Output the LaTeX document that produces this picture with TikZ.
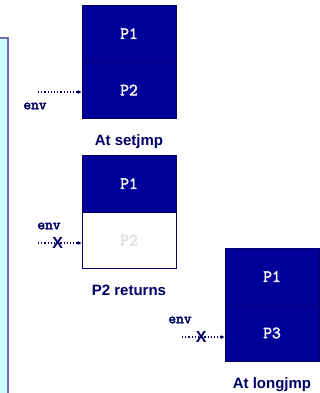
\documentclass[tikz,border=0pt]{standalone}
\usepackage{fontspec}
\setmainfont{Liberation Sans}
\setmonofont[AutoFakeBold=3]{Latin Modern Mono}
\usetikzlibrary{arrows.meta}
\definecolor{navy}{RGB}{0,0,153}
\definecolor{ink}{RGB}{0,0,102}
\definecolor{panel}{RGB}{204,255,255}
\definecolor{rim}{RGB}{110,110,180}
\tikzset{
  cell/.style={draw=ink, fill=navy, text=white!88!gray, minimum width=94pt,
    minimum height=56.5pt, inner sep=0pt, font=\ttfamily\bfseries\fontsize{17}{17}\selectfont},
  gone/.style={cell, fill=white, text=black!12},
  caption/.style={anchor=base, text=ink, font=\bfseries\fontsize{15}{15}\selectfont},
  envlbl/.style={text=ink, font=\ttfamily\bfseries\fontsize{15}{15}\selectfont},
  jmp/.style={ink, dotted, line width=1.2pt, -{Latex[length=4pt,width=4pt]}},
  cross/.style={text=ink, inner sep=0pt, font=\bfseries\fontsize{16}{16}\selectfont}
}
\begin{document}
\begin{tikzpicture}[x=1pt, y=-1pt]
    \useasboundingbox (0,0) rectangle (320,393);
    % left panel
    \fill[panel] (-2,38) rectangle (8,395);
    \draw[rim, line width=1.5pt] (-2,38) -- (8,38) -- (8,395);
    % at setjmp
    \node[cell] (a1) at (129,33.5) {P1};
    \node[cell] (a2) at (129,90) {P2};
    \node[caption] (at) at (129,145) {At setjmp};
    \coordinate (ae) at (38,92);
    \node[envlbl] (aenv) at (35,106) {env};
    \draw[jmp] (ae) -- (a2.west |- ae);
    % p2 returns
    \node[cell] (b1) at (129,183.5) {P1};
    \node[gone] (b2) at (129,240) {P2};
    \node[caption] (bt) at (129,295) {P2 returns};
    \coordinate (be) at (38,243);
    \node[envlbl] (benv) at (49,226) {env};
    \draw[jmp] (be) -- (b2.west |- be) node[cross, pos=.45] (bx) {X};
    % at longjmp
    \node[cell] (c1) at (272,276.5) {P1};
    \node[cell] (c3) at (272,333) {P3};
    \node[caption] (ct) at (272,388) {At longjmp};
    \coordinate (ce) at (182,337);
    \node[envlbl] (cenv) at (180,320) {env};
    \draw[jmp] (ce) -- (c3.west |- ce) node[cross, pos=.45] (cx) {X};
\end{tikzpicture}
\end{document}
